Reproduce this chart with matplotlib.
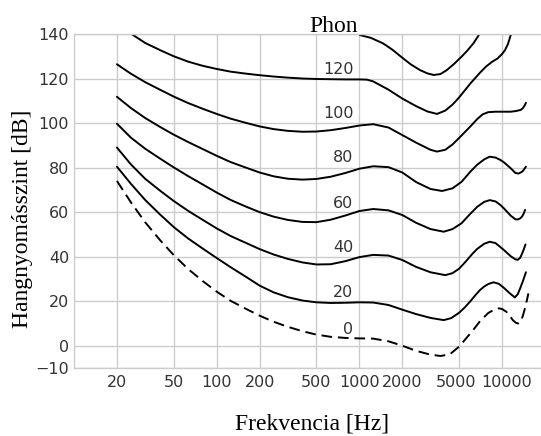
import numpy as np
import matplotlib
matplotlib.use("Agg")
import matplotlib.pyplot as plt
from matplotlib.transforms import ScaledTranslation

# ── Equal-loudness contours (freq [Hz], level [dB]) ──
phon0_f  = [20, 25, 31.5, 40, 50, 63, 80, 100, 125, 160, 200, 250, 315, 400, 500, 630, 800,
            1000, 1250, 1600, 2000, 2500, 3150, 3700, 4300, 5000, 5600, 6300, 7000, 8000,
            9000, 9500, 10000, 10700, 11300, 11900, 12500, 13000, 13500, 14000, 14500,
            15000, 15300]
phon0_db = [74, 64.5, 55.5, 47.5, 40.7, 34.5, 29, 24.3, 20.2, 16.6, 13.5, 10.8, 8.5, 6.5, 5,
            4, 3.5, 3.3, 3.2, 2, 0, -2.3, -4, -4.6, -3.9, -0.4, 3.3, 7.2, 11, 14.7,
            16.5, 16.8, 16.5, 15.3, 13.5, 11.5, 10.3, 10, 10.8, 13.5, 17,
            21, 23.5]

phon20_f  = [20, 25, 31.5, 40, 50, 63, 80, 100, 125, 160, 200, 250, 315, 400, 500, 630, 800,
             1000, 1250, 1600, 2000, 2500, 3150, 3900, 4400, 5000, 5500, 6000, 6500, 7000,
             7500, 8000, 8700, 9500, 10300, 11300, 12300, 12900, 13400, 14000, 14700]
phon20_db = [80.4, 72.8, 65.5, 59, 53.3, 48.2, 43.6, 39.4, 35.3, 31, 27, 24, 21.8, 20.3,
             19.5, 19.2, 19.3, 19.5, 19.4, 18.3, 16.2, 14.2, 12.5, 11.5, 12.4, 14.8, 17.3,
             20, 22.7, 25, 26.6, 27.7, 28.5, 27.8, 26, 23.6, 21.7, 23.2, 25.8, 29, 33]

phon40_f  = [20, 25, 31.5, 40, 50, 63, 80, 100, 125, 160, 200, 250, 315, 400, 500, 630, 800,
             1000, 1250, 1600, 2000, 2500, 3150, 4000, 4500, 5000, 5600, 6200, 6700, 7500,
             8200, 9000, 10300, 11500, 12400, 12900, 13400, 13800, 14200, 14600]
phon40_db = [89, 81.5, 75, 69.7, 65, 60.6, 56.5, 52.7, 49.3, 46.2, 43.4, 41, 39, 37.4, 36.5,
             36.6, 38, 39.8, 40.8, 40.5, 38.5, 35.4, 33, 31.7, 32.6, 34.6, 38, 41.3, 43.5,
             45.8, 46.7, 46.1, 43, 40.2, 38.8, 38.6, 39.5, 41.3, 43.3, 45.5]

phon60_f  = [20, 25, 31.5, 40, 50, 63, 80, 100, 125, 160, 200, 250, 315, 400, 500, 630, 800,
             1000, 1250, 1600, 2000, 2500, 3150, 3900, 4500, 5200, 6000, 6700, 7500, 8200,
             9000, 9700, 10300, 11500, 12400, 12900, 13400, 13800, 14200, 14500]
phon60_db = [99.7, 93.5, 88.5, 84.1, 80.1, 76.2, 72.4, 68.8, 65.5, 62.5, 60, 58, 56.5, 55.6,
             55.5, 56.6, 58.5, 60.5, 61.4, 60.8, 58.7, 55.2, 52.4, 51.2, 52.4, 55, 59.3,
             62.4, 64.6, 65.4, 64.8, 63.3, 61.7, 58.4, 56.8, 56.7, 57.2, 58, 59.4, 61]

phon80_f  = [20, 25, 31.5, 40, 50, 63, 80, 100, 125, 160, 200, 250, 315, 400, 500, 630, 800,
             1000, 1250, 1600, 2000, 2500, 3150, 3800, 4500, 5200, 6000, 6700, 7500, 8200,
             9000, 9700, 10300, 11500, 12400, 13000, 13800, 14200, 14700]
phon80_db = [111.8, 106.8, 102.3, 98.3, 94.8, 91.5, 88.3, 85.3, 82.5, 80, 77.8, 76.1, 75,
             74.6, 74.9, 75.9, 77.6, 79.5, 80.6, 80.2, 77.8, 73.5, 70.4, 69.5, 70.7, 73.6,
             78.2, 81.3, 83.7, 84.9, 84.5, 83.5, 82.4, 79.7, 77.6, 77.3, 78.1, 79, 80.4]

phon100_f  = [20, 25, 31.5, 40, 50, 63, 80, 100, 125, 160, 200, 250, 315, 400, 500, 630, 800,
              1000, 1250, 1600, 2000, 2500, 3150, 3500, 4000, 4500, 5200, 6000, 6700, 7300,
              8000, 9000, 10000, 11500, 12500, 13500, 14000, 14400, 14700]
phon100_db = [126.4, 122.2, 118.4, 115, 111.9, 109, 106.4, 104.1, 102, 100.1, 98.5, 97.3,
              96.5, 96.1, 96.2, 96.8, 97.8, 98.9, 99.5, 98, 94.6, 91.2, 88, 87.2, 88, 90.4,
              94.4, 98.5, 101.8, 103.9, 104.9, 105.1, 105.1, 105.1, 105.4, 105.9, 106.7,
              107.9, 109.1]

phon120_f  = [25.3, 31.5, 40, 50, 63, 80, 100, 125, 160, 200, 250, 315, 400, 500, 630, 800,
              1000, 1130, 1250, 1600, 2000, 2500, 3000, 3500, 4000, 4500, 5000, 6000, 7000,
              7700, 8500, 9300, 10000, 10500, 11000, 11500]
phon120_db = [140, 136, 132.8, 130, 127.6, 125.7, 124.3, 123.1, 122.2, 121.5, 120.9, 120.4,
              120, 119.8, 119.7, 119.6, 119.6, 119.5, 118.7, 115, 111, 107.6, 105.2, 104.1,
              105.6, 108.3, 111.5, 117.8, 122.6, 125.3, 127.5, 129, 131, 132.8, 135.5, 139.5]

phon140_f  = [1010, 1200, 1465, 1700, 2030, 2300, 2660, 3000, 3320, 3700, 4100, 4600, 5200,
              5700, 6300, 6870]
phon140_db = [139.5, 138.3, 135.8, 133, 129, 126.3, 123.8, 122.3, 121.6, 122, 123.8, 126.5,
              129.8, 132.5, 135.8, 139.5]

curve_labels = ["120", "100", "80", "60", "40", "20", "0"]
label_db     = [121.9, 102.1, 82.4, 61.8, 42.2, 22.0, 5.3]

xticks = [20, 50, 100, 200, 500, 1000, 2000, 5000, 10000]
yticks = [-10, 0, 20, 40, 60, 80, 100, 120, 140]

# ── Plot ─────────────────────────────────────────────────────────────────────
fig = plt.figure(figsize=(5.41, 4.36), dpi=100)
ax = fig.add_axes([74 / 541, 68 / 436, 471 / 541, 334 / 436])

grid_c = "#cccccc"
txt_c  = "#333333"
ax.set_xscale("log")
ax.set_xlim(10, 20000)
ax.set_ylim(-10, 140)
ax.grid(True, color=grid_c, linewidth=1.0)
ax.set_axisbelow(True)
for s in ax.spines.values():
    s.set_color(grid_c)
    s.set_linewidth(1.0)

ax.set_xticks(xticks)
ax.set_xticklabels([str(t) for t in xticks])
ax.xaxis.set_minor_locator(matplotlib.ticker.NullLocator())
ax.set_yticks(yticks)
ax.set_yticklabels([str(t).replace("-", "\u2212") for t in yticks])
ax.tick_params(length=0, labelsize=11.5, labelcolor=txt_c)
ax.tick_params(axis="x", pad=5)
ax.tick_params(axis="y", pad=3.5)

# the last two x labels sit slightly apart in the reference
labels = ax.get_xticklabels()
labels[-2].set_transform(labels[-2].get_transform() + ScaledTranslation(-3 / 100, 0, fig.dpi_scale_trans))
labels[-1].set_transform(labels[-1].get_transform() + ScaledTranslation(5 / 100, 0, fig.dpi_scale_trans))

kw = dict(color="black", linewidth=1.4, solid_capstyle="round", solid_joinstyle="round")
ax.plot(phon140_f, phon140_db, **kw)
ax.plot(phon120_f, phon120_db, **kw)
ax.plot(phon100_f, phon100_db, **kw)
ax.plot(phon80_f, phon80_db, **kw)
ax.plot(phon60_f, phon60_db, **kw)
ax.plot(phon40_f, phon40_db, **kw)
ax.plot(phon20_f, phon20_db, **kw)
ax.plot(phon0_f, phon0_db, color="black", linewidth=1.4, linestyle=(0, (5.5, 3)))

for lab, y in zip(curve_labels, label_db):
    ax.text(908, y, lab, ha="right", va="baseline", fontsize=11.5, color=txt_c)

serif = "Liberation Serif"
ax.text(665, 140.9, "Phon", ha="center", va="baseline", fontsize=17,
        family=serif, clip_on=False)
fig.text(312 / 541, 1 - 424 / 436, "Frekvencia [Hz]", ha="center", va="center",
         fontsize=17, family=serif)
fig.text(23 / 541, 1 - 219 / 436, "Hangnyomásszint [dB]", ha="center", va="center",
         rotation=90, fontsize=17, family=serif)

plt.savefig("out.png", dpi=100)
